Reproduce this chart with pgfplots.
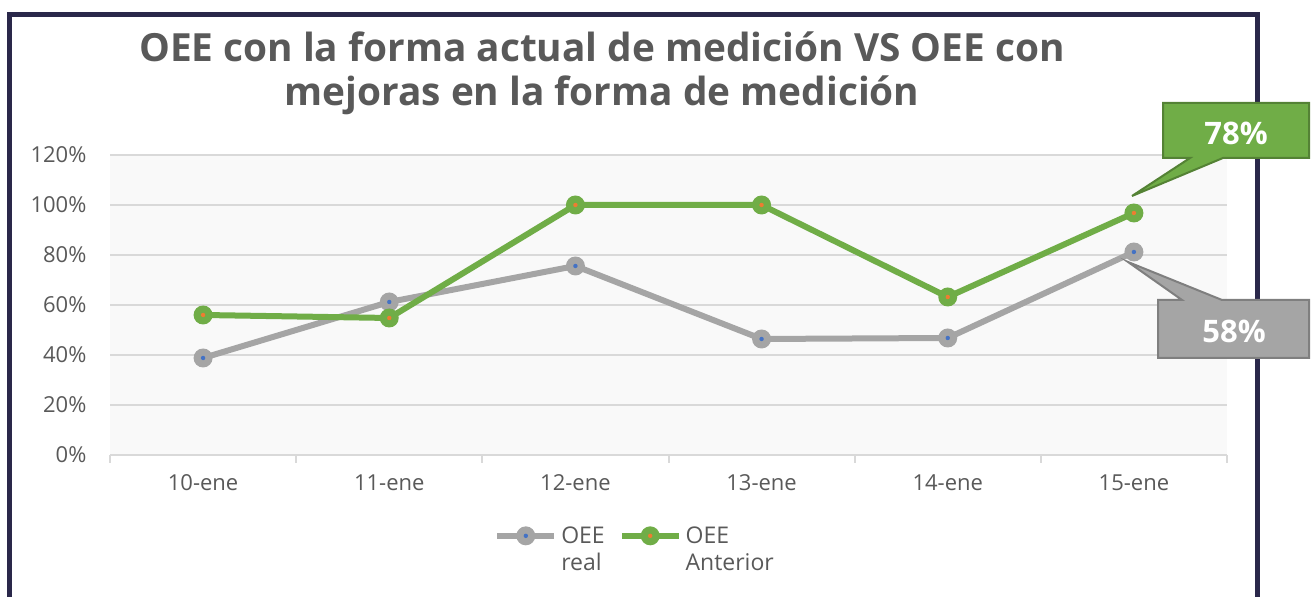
\documentclass[border=0pt]{standalone}
\usepackage{fontspec}
\setmainfont{Open Sans}
\usepackage{pgfplots}
\pgfplotsset{compat=1.18}
\definecolor{framec}{RGB}{42,40,74}
\definecolor{greenc}{RGB}{112,173,71}
\definecolor{greend}{RGB}{84,130,53}
\definecolor{grayc}{RGB}{165,165,165}
\definecolor{grayd}{RGB}{127,127,127}
\definecolor{bluec}{RGB}{68,114,196}
\definecolor{orangec}{RGB}{237,125,49}
\definecolor{gridc}{RGB}{217,217,217}
\definecolor{bgc}{RGB}{249,249,249}
\definecolor{textc}{RGB}{89,89,89}
\pgfdeclareplotmark{ringblue}{%
  \pgfpathcircle{\pgfpointorigin}{\pgfplotmarksize}\pgfusepathqfill
  \begin{pgfscope}\pgfsetfillcolor{bluec}\pgfpathcircle{\pgfpointorigin}{1.1pt}\pgfusepathqfill\end{pgfscope}}
\pgfdeclareplotmark{ringorange}{%
  \pgfpathcircle{\pgfpointorigin}{\pgfplotmarksize}\pgfusepathqfill
  \begin{pgfscope}\pgfsetfillcolor{orangec}\pgfpathcircle{\pgfpointorigin}{1.1pt}\pgfusepathqfill\end{pgfscope}}
\pgfplotsset{widelegend/.style={legend image code/.code={\draw[#1, mark repeat=2, mark phase=2] plot coordinates {(0cm,0cm) (0.5cm,0cm) (1cm,0cm)};}}}
\begin{document}
\begin{tikzpicture}[x=0.5pt,y=0.5pt]
\useasboundingbox (0,0) rectangle (1314,597);
\draw[framec, line width=2.5pt] (9,-20) -- (9,582) -- (1257,582) -- (1257,-20);
\node[anchor=base, font=\fontsize{19.4}{23}\selectfont\bfseries, text=textc] at (602,535) {OEE con la forma actual de medición VS OEE con};
\node[anchor=base, font=\fontsize{19.4}{23}\selectfont\bfseries, text=textc] at (602,491) {mejoras en la forma de medición};
\begin{axis}[
  at={(55pt,71pt)}, anchor=south west,
  scale only axis, width=558.5pt, height=150pt,
  xmin=-0.5, xmax=5.5, ymin=0, ymax=120,
  clip=false,
  axis background/.style={fill=bgc},
  axis x line*=bottom, axis y line*=left,
  x axis line style={draw=gridc, line width=1pt, -},
  y axis line style={draw=none},
  xtick={0,...,5},
  xticklabels={10-ene,11-ene,12-ene,13-ene,14-ene,15-ene},
  minor xtick={-0.5,0.5,...,5.5},
  major x tick style={draw=none},
  minor x tick style={draw=gridc, line width=1pt},
  minor tick length=4pt,
  tick align=outside,
  ytick={0,20,...,120},
  yticklabels={0\%,20\%,40\%,60\%,80\%,100\%,120\%},
  major y tick style={draw=none},
  ymajorgrids, grid style={draw=gridc, line width=1pt},
  xticklabel style={font=\fontsize{11}{13}\selectfont, text=textc, yshift=-2pt},
  yticklabel style={font=\fontsize{11}{13}\selectfont, text=textc, xshift=-4pt},
  legend columns=2,
  legend cell align=left,
  legend style={draw=none, fill=none, at={(0.471,-0.205)}, anchor=north,
    font=\fontsize{11.5}{13.5}\selectfont, text=textc,
    /tikz/every odd column/.append style={column sep=0pt},
    /tikz/every even column/.append style={column sep=5pt}},
  widelegend,
]
\addplot[grayc, line width=3pt, line join=round, mark=ringblue, mark size=4.75pt, mark options={fill=grayc, draw=none}]
  coordinates {(0,38.8) (1,61.2) (2,75.6) (3,46.4) (4,46.8) (5,81.2)};
\addlegendentry{\begin{tabular}[t]{@{}l@{}}OEE\\real\end{tabular}}
\addplot[greenc, line width=3pt, line join=round, mark=ringorange, mark size=4.75pt, mark options={fill=greenc, draw=none}]
  coordinates {(0,56) (1,54.8) (2,100) (3,100) (4,63.2) (5,96.8)};
\addlegendentry{\begin{tabular}[t]{@{}l@{}}OEE\\Anterior\end{tabular}}
\end{axis}
\draw[fill=greenc, draw=greend, line width=1pt] (1163,494) -- (1309,494) -- (1309,439) -- (1223,439) -- (1132,401) -- (1190,439) -- (1163,439) -- cycle;
\node[text=white, font=\fontsize{15.5}{18}\selectfont\bfseries] at (1236,464) {78\%};
\draw[fill=grayc, draw=grayd, line width=1pt] (1158,297) -- (1182,297) -- (1128,335) -- (1222,297) -- (1309,297) -- (1309,239) -- (1158,239) -- cycle;
\node[text=white, font=\fontsize{15.5}{18}\selectfont\bfseries] at (1234,266) {58\%};
\end{tikzpicture}
\end{document}
